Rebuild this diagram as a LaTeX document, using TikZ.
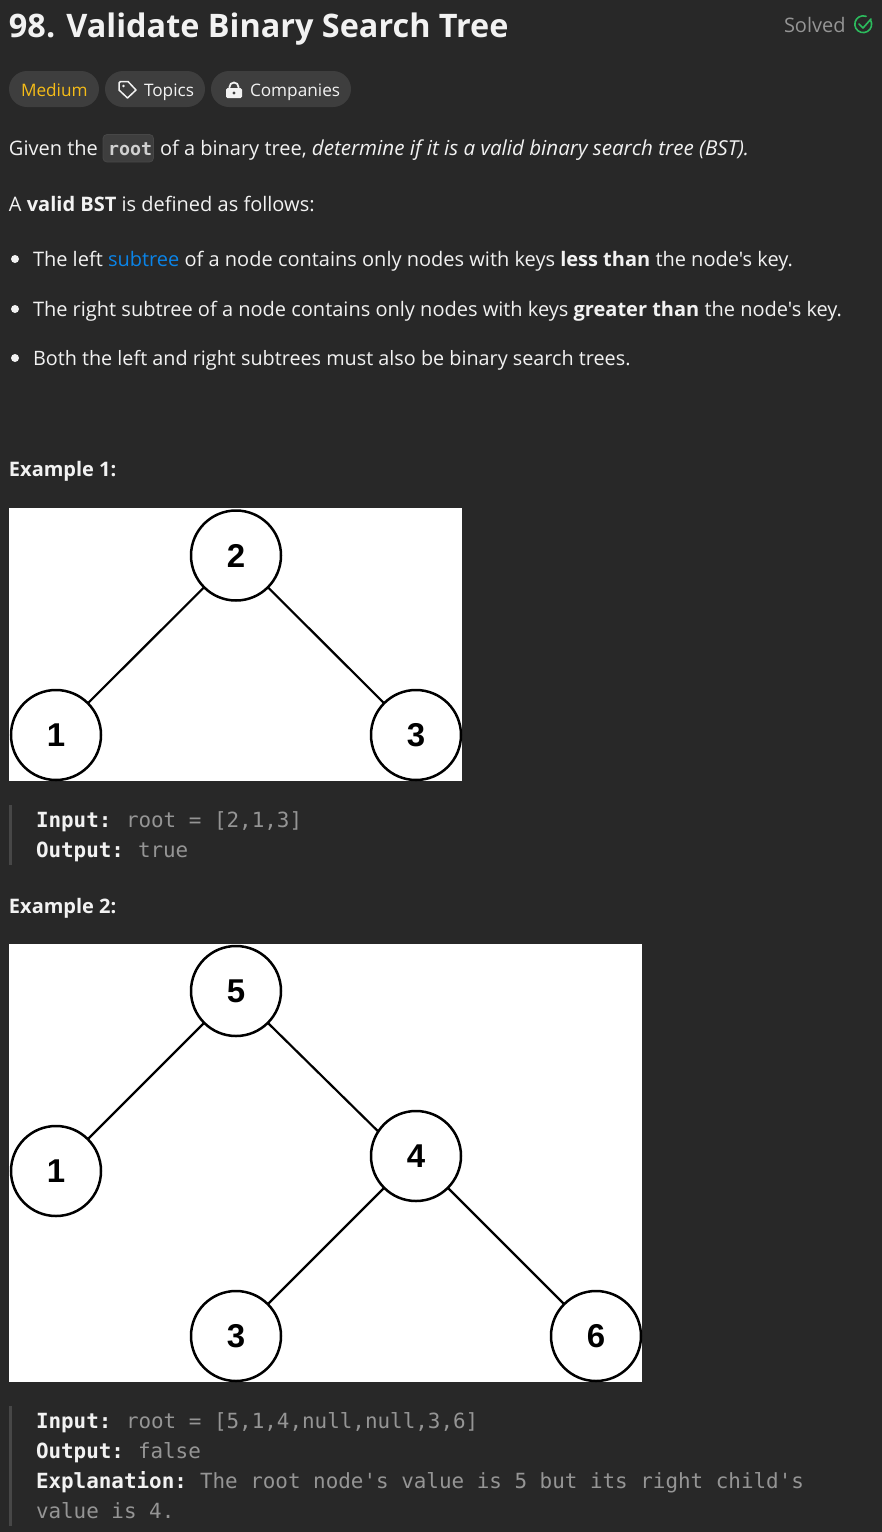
\documentclass[tikz,border=0pt]{standalone}
\usepackage{fontspec}
\setmainfont{Open Sans}
\newfontfamily\bodyfam{Open Sans}
\setmonofont{DejaVu Sans Mono}
\setsansfont{Liberation Sans}
\definecolor{pagebg}{HTML}{282828}
\definecolor{chipbg}{HTML}{3E3E3E}
\definecolor{bodytxt}{HTML}{F2F2F2}
\definecolor{graytxt}{HTML}{959595}
\definecolor{medium}{HTML}{F5BC18}
\definecolor{linkblue}{HTML}{0A84E8}
\definecolor{solvedgreen}{HTML}{2CBB5D}
\definecolor{barcol}{HTML}{474747}
\definecolor{codetxt}{HTML}{D0D0D0}
\newcommand{\bodyf}{\fontsize{20}{24}\selectfont\bodyfam}
\newcommand{\chipf}{\fontsize{17.2}{22}\selectfont\bodyfam}
\newcommand{\monof}{\fontsize{20.9}{30}\selectfont\ttfamily}
\tikzset{x=1pt,y=-1pt,
 txt/.style={anchor=base west,inner sep=0,outer sep=0,text=bodytxt,font=\bodyf},
 mono/.style={anchor=base west,inner sep=0,outer sep=0,text=graytxt,font=\monof},
 chip/.style={fill=chipbg,draw=none,rounded corners=18pt},
 imgbox/.style={fill=white,draw=none},
 treenode/.style={circle,draw=black,line width=2.5pt,fill=white,minimum size=90pt,inner sep=0,outer sep=0,font=\fontsize{33}{33}\selectfont\bfseries\sffamily,text=black},
 edge/.style={draw=black,line width=2.2pt},
 bar/.style={fill=barcol,draw=none}
}
\begin{document}
\begin{tikzpicture}
\useasboundingbox (0,0) rectangle (882,1532);
\fill[pagebg] (0,0) rectangle (882,1532);
% header
\node[txt,font=\fontsize{32.4}{36}\selectfont\bodyfam\bfseries] (title) at (9,37.5) {98. Validate Binary Search Tree};
\node[txt,text=graytxt] (solved) at (784,32) {Solved};
\draw[solvedgreen,line width=1.6pt,line cap=round] (870.5,20) arc (-30:290:8.4);
\draw[solvedgreen,line width=1.6pt,line cap=round,line join=round] (859,24) -- (863,28) -- (871,19);
% chips
\fill[chip] (9,71) rectangle (99,107);
\fill[chip] (105,71) rectangle (205,107);
\fill[chip] (211,71) rectangle (351,107);
\node[txt,text=medium,font=\chipf] (medium) at (21,96) {Medium};
\draw[bodytxt,line width=1.5pt,line join=round] (119,83) -- (119,90) -- (127.5,98) -- (136,90) -- (128,81.5) -- (120.5,81.5) -- cycle;
\fill[bodytxt] (123.5,86) circle (1.3);
\node[txt,font=\chipf] (topics) at (144,96) {Topics};
\draw[bodytxt,line width=1.8pt] (229.5,89) -- (229.5,87) arc (180:360:4.5) -- (238.5,89);
\fill[bodytxt,rounded corners=1.5pt] (226,88) rectangle (242,98);
\fill[chipbg] (234,93) circle (1.6);
\node[txt,font=\chipf] (companies) at (250,96) {Companies};
% description
\node[txt] (given) at (9,155) {Given the};
\filldraw[fill=chipbg,draw=barcol,line width=0.8pt,rounded corners=4pt] (103,134.5) rectangle (153.5,162);
\node[mono,text=codetxt,font=\fontsize{18.3}{24}\selectfont\ttfamily\bfseries] (root) at (108,155) {root};
\node[txt] (ofa) at (160,155) {of a binary tree, {\fontsize{20.6}{24}\selectfont\itshape determine if it is a valid binary search tree (BST).}};
\node[txt] (valid) at (9,211) {A \textbf{valid BST} is defined as follows:};
\fill[bodytxt] (15,259) circle (4);
\node[txt] (b1) at (33,266) {The left \textcolor{linkblue}{subtree} of a node contains only nodes with keys \textbf{less than} the node's key.};
\fill[bodytxt] (15,309) circle (4);
\node[txt] (b2) at (33,316) {The right subtree of a node contains only nodes with keys \textbf{greater than} the node's key.};
\fill[bodytxt] (15,358) circle (4);
\node[txt,font=\fontsize{19.8}{24}\selectfont\bodyfam] (b3) at (33,365) {Both the left and right subtrees must also be binary search trees.};
% example 1
\node[txt,font=\bodyf\bfseries] (ex1) at (9,476) {Example 1:};
\fill[imgbox] (9,508) rectangle (462,781);
\node[treenode] (a2) at (236,555.5) {2};
\node[treenode] (a1) at (56,735) {1};
\node[treenode] (a3) at (416,735) {3};
\draw[edge] (a2) -- (a1);
\draw[edge] (a2) -- (a3);
\fill[bar] (9,805) rectangle (12,865);
\node[mono,text=bodytxt,font=\monof\bfseries] (in1) at (36,827.5) {Input:};
\node[mono] (in1v) at (126,827.5) {root = [2,1,3]};
\node[mono,text=bodytxt,font=\monof\bfseries] (out1) at (36,857.5) {Output:};
\node[mono] (out1v) at (138,857.5) {true};
% example 2
\node[txt,font=\bodyf\bfseries] (ex2) at (9,913) {Example 2:};
\fill[imgbox] (9,944) rectangle (642,1382);
\node[treenode] (b5) at (236,991) {5};
\node[treenode] (b1n) at (56,1171) {1};
\node[treenode] (b4) at (416,1156) {4};
\node[treenode] (b3n) at (236,1336) {3};
\node[treenode] (b6) at (596,1336) {6};
\draw[edge] (b5) -- (b1n);
\draw[edge] (b5.-45) -- (b4.147);
\draw[edge] (b4) -- (b3n);
\draw[edge] (b4) -- (b6);
\fill[bar] (9,1406) rectangle (12,1526);
\node[mono,text=bodytxt,font=\monof\bfseries] (in2) at (36,1428.5) {Input:};
\node[mono] (in2v) at (126,1428.5) {root = [5,1,4,null,null,3,6]};
\node[mono,text=bodytxt,font=\monof\bfseries] (out2) at (36,1458.5) {Output:};
\node[mono] (out2v) at (138,1458.5) {false};
\node[mono,text=bodytxt,font=\monof\bfseries] (exp2) at (36,1488.5) {Explanation:};
\node[mono] (exp2v) at (200,1488.5) {The root node's value is 5 but its right child's};
\node[mono] (exp2w) at (36,1518.5) {value is 4.};
\end{tikzpicture}
\end{document}
